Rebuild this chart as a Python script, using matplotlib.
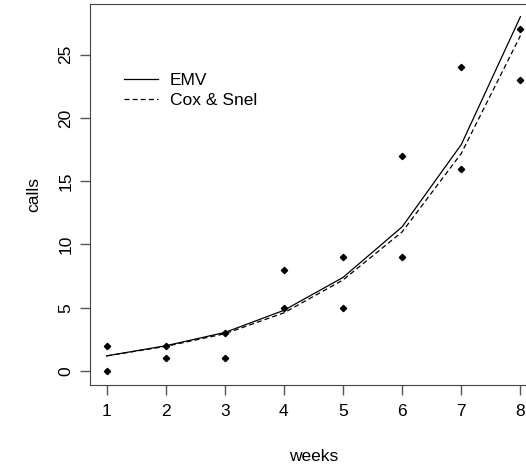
import matplotlib.pyplot as plt
import numpy as np

plt.rcParams['font.family'] = ['Liberation Sans', 'DejaVu Sans']

weeks = [1, 2, 3, 4, 5, 6, 7, 8]
calls_a = [2, 2, 3, 8, 9, 17, 24, 27]
calls_b = [0, 1, 1, 5, 5, 9, 16, 23]
emv = [1.2, 2.0, 3.05, 4.8, 7.4, 11.4, 17.9, 28.0]
cox_snel = [1.2, 1.95, 2.95, 4.6, 7.2, 11.0, 17.2, 26.5]

fs = 12.5

fig = plt.figure(figsize=(5.26, 4.71), dpi=100)
ax = fig.add_axes([90 / 526, (471 - 385) / 471, 447 / 526, 381 / 471])

x_pts = np.concatenate([weeks, weeks])
y_pts = np.concatenate([calls_a, calls_b])
ax.plot(x_pts, y_pts, 'D', color='black', markersize=3.2, linestyle='none')
ax.plot(weeks, emv, '-', color='black', lw=0.9, label='EMV')
ax.plot(weeks, cox_snel, '--', color='black', lw=0.9, dashes=(4, 2.5), label='Cox & Snel')

ax.set_xlim(0.72, 8.28)
ax.set_ylim(-1.1, 29.0)
ax.set_xticks(weeks)
ax.set_yticks([0, 5, 10, 15, 20, 25])
ax.tick_params(labelsize=fs, length=7, color='#555555', width=1)
ax.tick_params(axis='x', pad=7)
ax.tick_params(axis='y', pad=5)
for lab in ax.get_yticklabels():
    lab.set_rotation(90)
    lab.set_va('center')
for s in ax.spines.values():
    s.set_color('#444444')

ax.set_xlabel('weeks', fontsize=fs, labelpad=21)
ax.set_ylabel('calls', fontsize=fs, labelpad=12)

ax.legend(loc='upper left', bbox_to_anchor=(0.04, 0.86), frameon=False,
          fontsize=fs, handlelength=2.0, handletextpad=0.65, labelspacing=0.3)

fig.savefig('out.png', dpi=100)
